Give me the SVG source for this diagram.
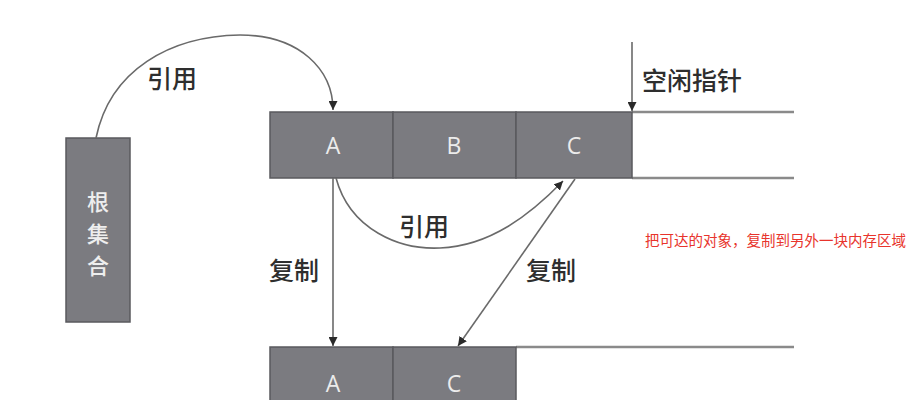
<svg xmlns="http://www.w3.org/2000/svg" width="922" height="400" viewBox="0 0 922 400">
<style>
.box{fill:#7b7b80;stroke:#5a5a5e;stroke-width:1.5}
.cell{font-family:"Open Sans","Liberation Sans",sans-serif;font-size:23px;fill:#ececec;text-anchor:middle}
.rootlbl{font-family:"Noto Sans CJK SC",sans-serif;font-size:22px;fill:#eeeeee;text-anchor:middle;font-weight:500}
.lbl{font-family:"Noto Sans CJK SC",sans-serif;font-size:25px;fill:#2e2e2e;font-weight:500}
.note{font-family:"Noto Sans CJK SC",sans-serif;font-size:14.5px;fill:#e8342c}
.edge{fill:none;stroke:#6a6a6a;stroke-width:1.6}
.rail{stroke:#8a8a8a;stroke-width:2.5}
</style>
<defs>
<marker id="ah" viewBox="0 0 10 10" refX="10" refY="5" markerWidth="9" markerHeight="9" markerUnits="userSpaceOnUse" orient="auto">
<path d="M0,0 L10,5 L0,10 z" fill="#2a2a2a"/>
</marker>
</defs>
<rect width="922" height="400" fill="#ffffff"/>
<g id="root">
<rect class="box" x="66" y="138" width="64" height="184"/>
<text class="rootlbl" x="98" y="210">根</text>
<text class="rootlbl" x="98" y="242">集</text>
<text class="rootlbl" x="98" y="274">合</text>
</g>
<g id="from-space">
<line class="rail" x1="632" y1="112" x2="794" y2="112"/>
<line class="rail" x1="632" y1="178" x2="794" y2="178"/>
<rect class="box" x="270" y="112" width="123" height="66"/>
<rect class="box" x="393" y="112" width="123" height="66"/>
<rect class="box" x="516" y="112" width="116" height="66"/>
<text class="cell" x="333" y="154">A</text>
<text class="cell" x="454" y="154">B</text>
<text class="cell" x="574" y="154">C</text>
</g>
<g id="to-space">
<line class="rail" x1="516" y1="347" x2="794" y2="347"/>
<rect class="box" x="270" y="347" width="123" height="66"/>
<rect class="box" x="393" y="347" width="123" height="66"/>
<text class="cell" x="333" y="392">A</text>
<text class="cell" x="454" y="392">C</text>
</g>
<g id="free-pointer">
<text class="lbl" x="642" y="90">空闲指针</text>
</g>
<g id="connectors">
<path class="edge" d="M96,138 C110,70 170,36 240,35 C300,35 333,70 333,110" marker-end="url(#ah)"/>
<line class="edge" x1="632" y1="42" x2="632" y2="111" marker-end="url(#ah)"/>
<path class="edge" d="M336,178 C350,230 400,250 440,248 C490,246 530,215 563,181" marker-end="url(#ah)"/>
<line class="edge" x1="333" y1="178" x2="333" y2="346" marker-end="url(#ah)"/>
<line class="edge" x1="575" y1="179" x2="458" y2="346" marker-end="url(#ah)"/>
</g>
<g id="labels">
<text class="lbl" x="147" y="88">引用</text>
<text class="lbl" x="399" y="236">引用</text>
<text class="lbl" x="269" y="280">复制</text>
<text class="lbl" x="526" y="280">复制</text>
<text class="note" x="645" y="246">把可达的对象，复制到另外一块内存区域</text>
</g>
</svg>
